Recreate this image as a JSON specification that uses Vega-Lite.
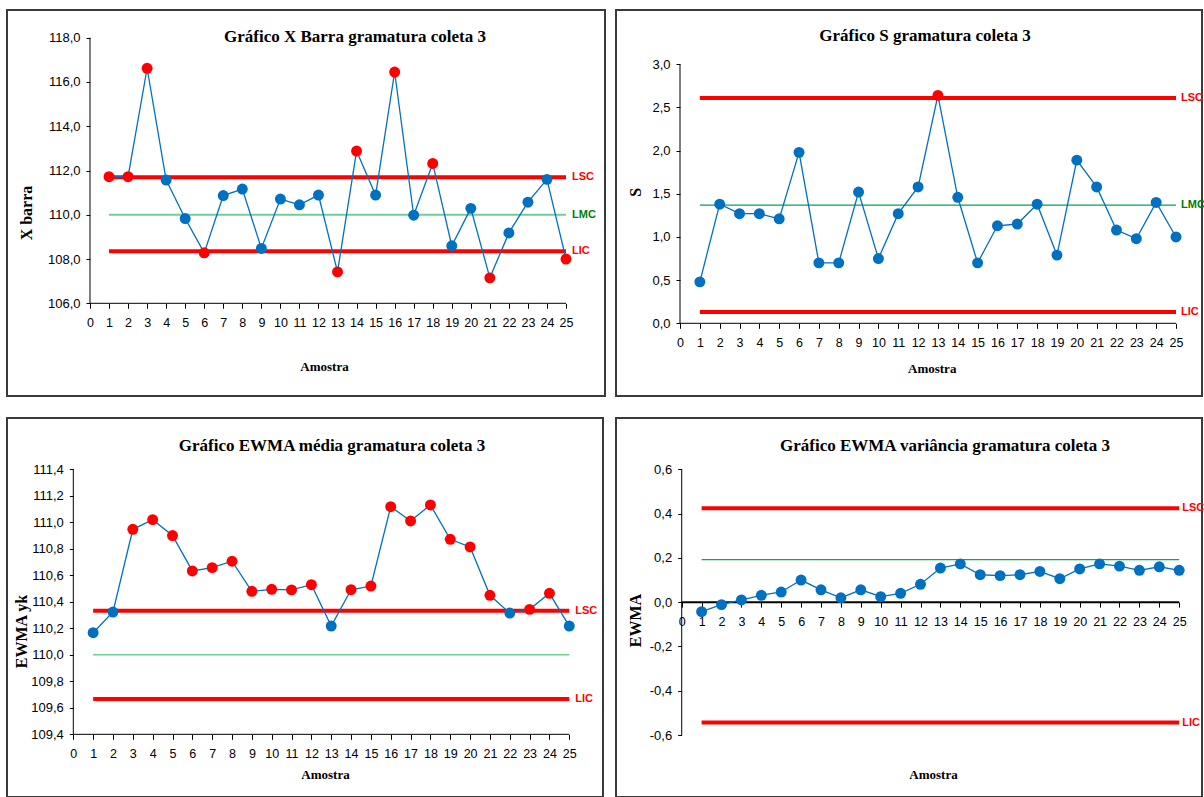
{
  "$schema": "https://vega.github.io/schema/vega-lite/v6.json",
  "padding": {"left": 6, "top": 9, "right": 0, "bottom": 0},
  "background": "white",
  "datasets": {
    "xbarra": [
      {"amostra": 1, "valor": 111.72, "situacao": "fora"},
      {"amostra": 2, "valor": 111.72, "situacao": "fora"},
      {"amostra": 3, "valor": 116.62, "situacao": "fora"},
      {"amostra": 4, "valor": 111.57, "situacao": "dentro"},
      {"amostra": 5, "valor": 109.83, "situacao": "dentro"},
      {"amostra": 6, "valor": 108.28, "situacao": "fora"},
      {"amostra": 7, "valor": 110.87, "situacao": "dentro"},
      {"amostra": 8, "valor": 111.16, "situacao": "dentro"},
      {"amostra": 9, "valor": 108.48, "situacao": "dentro"},
      {"amostra": 10, "valor": 110.71, "situacao": "dentro"},
      {"amostra": 11, "valor": 110.45, "situacao": "dentro"},
      {"amostra": 12, "valor": 110.89, "situacao": "dentro"},
      {"amostra": 13, "valor": 107.42, "situacao": "fora"},
      {"amostra": 14, "valor": 112.88, "situacao": "fora"},
      {"amostra": 15, "valor": 110.89, "situacao": "dentro"},
      {"amostra": 16, "valor": 116.45, "situacao": "fora"},
      {"amostra": 17, "valor": 109.98, "situacao": "dentro"},
      {"amostra": 18, "valor": 112.32, "situacao": "fora"},
      {"amostra": 19, "valor": 108.6, "situacao": "dentro"},
      {"amostra": 20, "valor": 110.29, "situacao": "dentro"},
      {"amostra": 21, "valor": 107.15, "situacao": "fora"},
      {"amostra": 22, "valor": 109.18, "situacao": "dentro"},
      {"amostra": 23, "valor": 110.57, "situacao": "dentro"},
      {"amostra": 24, "valor": 111.6, "situacao": "dentro"},
      {"amostra": 25, "valor": 108.0, "situacao": "fora"}
    ],
    "xbarra_lim": [
      {"limite": "LSC", "valor": 111.7, "inicio": 1, "fim": 25},
      {"limite": "LMC", "valor": 110.0, "inicio": 1, "fim": 25},
      {"limite": "LIC", "valor": 108.35, "inicio": 1, "fim": 25}
    ],
    "s": [
      {"amostra": 1, "valor": 0.48, "situacao": "dentro"},
      {"amostra": 2, "valor": 1.38, "situacao": "dentro"},
      {"amostra": 3, "valor": 1.27, "situacao": "dentro"},
      {"amostra": 4, "valor": 1.27, "situacao": "dentro"},
      {"amostra": 5, "valor": 1.21, "situacao": "dentro"},
      {"amostra": 6, "valor": 1.98, "situacao": "dentro"},
      {"amostra": 7, "valor": 0.7, "situacao": "dentro"},
      {"amostra": 8, "valor": 0.7, "situacao": "dentro"},
      {"amostra": 9, "valor": 1.52, "situacao": "dentro"},
      {"amostra": 10, "valor": 0.75, "situacao": "dentro"},
      {"amostra": 11, "valor": 1.27, "situacao": "dentro"},
      {"amostra": 12, "valor": 1.58, "situacao": "dentro"},
      {"amostra": 13, "valor": 2.64, "situacao": "fora"},
      {"amostra": 14, "valor": 1.46, "situacao": "dentro"},
      {"amostra": 15, "valor": 0.7, "situacao": "dentro"},
      {"amostra": 16, "valor": 1.13, "situacao": "dentro"},
      {"amostra": 17, "valor": 1.15, "situacao": "dentro"},
      {"amostra": 18, "valor": 1.38, "situacao": "dentro"},
      {"amostra": 19, "valor": 0.79, "situacao": "dentro"},
      {"amostra": 20, "valor": 1.89, "situacao": "dentro"},
      {"amostra": 21, "valor": 1.58, "situacao": "dentro"},
      {"amostra": 22, "valor": 1.08, "situacao": "dentro"},
      {"amostra": 23, "valor": 0.98, "situacao": "dentro"},
      {"amostra": 24, "valor": 1.4, "situacao": "dentro"},
      {"amostra": 25, "valor": 1.0, "situacao": "dentro"}
    ],
    "s_lim": [
      {"limite": "LSC", "valor": 2.61, "inicio": 1, "fim": 25},
      {"limite": "LMC", "valor": 1.37, "inicio": 1, "fim": 25},
      {"limite": "LIC", "valor": 0.13, "inicio": 1, "fim": 25}
    ],
    "ewma_media": [
      {"amostra": 1, "valor": 110.167, "situacao": "dentro"},
      {"amostra": 2, "valor": 110.323, "situacao": "dentro"},
      {"amostra": 3, "valor": 110.947, "situacao": "fora"},
      {"amostra": 4, "valor": 111.02, "situacao": "fora"},
      {"amostra": 5, "valor": 110.9, "situacao": "fora"},
      {"amostra": 6, "valor": 110.633, "situacao": "fora"},
      {"amostra": 7, "valor": 110.658, "situacao": "fora"},
      {"amostra": 8, "valor": 110.706, "situacao": "fora"},
      {"amostra": 9, "valor": 110.479, "situacao": "fora"},
      {"amostra": 10, "valor": 110.494, "situacao": "fora"},
      {"amostra": 11, "valor": 110.49, "situacao": "fora"},
      {"amostra": 12, "valor": 110.529, "situacao": "fora"},
      {"amostra": 13, "valor": 110.217, "situacao": "dentro"},
      {"amostra": 14, "valor": 110.491, "situacao": "fora"},
      {"amostra": 15, "valor": 110.519, "situacao": "fora"},
      {"amostra": 16, "valor": 111.118, "situacao": "fora"},
      {"amostra": 17, "valor": 111.01, "situacao": "fora"},
      {"amostra": 18, "valor": 111.131, "situacao": "fora"},
      {"amostra": 19, "valor": 110.872, "situacao": "fora"},
      {"amostra": 20, "valor": 110.814, "situacao": "fora"},
      {"amostra": 21, "valor": 110.449, "situacao": "fora"},
      {"amostra": 22, "valor": 110.315, "situacao": "dentro"},
      {"amostra": 23, "valor": 110.343, "situacao": "fora"},
      {"amostra": 24, "valor": 110.464, "situacao": "fora"},
      {"amostra": 25, "valor": 110.217, "situacao": "dentro"}
    ],
    "ewma_media_lim": [
      {"limite": "LSC", "valor": 110.333, "inicio": 1, "fim": 25},
      {"limite": "LMC", "valor": 110.0, "inicio": 1, "fim": 25},
      {"limite": "LIC", "valor": 109.667, "inicio": 1, "fim": 25}
    ],
    "ewma_var": [
      {"amostra": 1, "valor": -0.043, "situacao": "dentro"},
      {"amostra": 2, "valor": -0.011, "situacao": "dentro"},
      {"amostra": 3, "valor": 0.01, "situacao": "dentro"},
      {"amostra": 4, "valor": 0.031, "situacao": "dentro"},
      {"amostra": 5, "valor": 0.046, "situacao": "dentro"},
      {"amostra": 6, "valor": 0.1, "situacao": "dentro"},
      {"amostra": 7, "valor": 0.056, "situacao": "dentro"},
      {"amostra": 8, "valor": 0.02, "situacao": "dentro"},
      {"amostra": 9, "valor": 0.056, "situacao": "dentro"},
      {"amostra": 10, "valor": 0.025, "situacao": "dentro"},
      {"amostra": 11, "valor": 0.04, "situacao": "dentro"},
      {"amostra": 12, "valor": 0.081, "situacao": "dentro"},
      {"amostra": 13, "valor": 0.154, "situacao": "dentro"},
      {"amostra": 14, "valor": 0.173, "situacao": "dentro"},
      {"amostra": 15, "valor": 0.124, "situacao": "dentro"},
      {"amostra": 16, "valor": 0.12, "situacao": "dentro"},
      {"amostra": 17, "valor": 0.124, "situacao": "dentro"},
      {"amostra": 18, "valor": 0.139, "situacao": "dentro"},
      {"amostra": 19, "valor": 0.106, "situacao": "dentro"},
      {"amostra": 20, "valor": 0.15, "situacao": "dentro"},
      {"amostra": 21, "valor": 0.173, "situacao": "dentro"},
      {"amostra": 22, "valor": 0.163, "situacao": "dentro"},
      {"amostra": 23, "valor": 0.144, "situacao": "dentro"},
      {"amostra": 24, "valor": 0.16, "situacao": "dentro"},
      {"amostra": 25, "valor": 0.144, "situacao": "dentro"}
    ],
    "ewma_var_lim": [
      {"limite": "LSC", "valor": 0.424, "inicio": 1, "fim": 25},
      {"limite": "LMC", "valor": 0.192, "inicio": 1, "fim": 25},
      {"limite": "LIC", "valor": -0.544, "inicio": 1, "fim": 25}
    ]
  },
  "vconcat": [
    {
      "spacing": 9,
      "hconcat": [
        {
          "width": 598,
          "height": 386,
          "title": {"text": "Gráfico X Barra gramatura coleta 3", "offset": -36, "dx": 49},
          "layer": [
            {
              "data": {"values": [{}]},
              "mark": {"type": "rule", "color": "black", "strokeWidth": 1},
              "encoding": {
                "x": {"datum": 0, "type": "quantitative", "scale": {"domain": [-4.359, 27.048], "nice": false, "zero": false}},
                "y": {"datum": 106, "type": "quantitative", "scale": {"domain": [101.812, 119.252], "nice": false, "zero": false}},
                "y2": {"datum": 118}
              }
            },
            {
              "data": {"values": [{}]},
              "mark": {"type": "rule", "color": "black", "strokeWidth": 1},
              "encoding": {
                "x": {"datum": 0, "type": "quantitative", "scale": {"domain": [-4.359, 27.048], "nice": false, "zero": false}},
                "x2": {"datum": 25},
                "y": {"datum": 106, "type": "quantitative", "scale": {"domain": [101.812, 119.252], "nice": false, "zero": false}}
              }
            },
            {
              "data": {"name": "xbarra_lim"},
              "mark": {"type": "rule"},
              "encoding": {
                "x": {"field": "inicio", "type": "quantitative", "scale": {"domain": [-4.359, 27.048], "nice": false, "zero": false}},
                "x2": {"field": "fim"},
                "y": {"field": "valor", "type": "quantitative", "scale": {"domain": [101.812, 119.252], "nice": false, "zero": false}},
                "stroke": {"condition": {"test": "datum.limite == 'LMC'", "value": "#6fcf95"}, "value": "#FF0000"},
                "strokeWidth": {"condition": {"test": "datum.limite == 'LMC'", "value": 2}, "value": 4}
              }
            },
            {
              "data": {"name": "xbarra"},
              "mark": {"type": "line", "color": "#0070C0", "strokeWidth": 1.3},
              "encoding": {
                "x": {"field": "amostra", "type": "quantitative", "scale": {"domain": [-4.359, 27.048], "nice": false, "zero": false},
                  "axis": {"values": [0,1,2,3,4,5,6,7,8,9,10,11,12,13,14,15,16,17,18,19,20,21,22,23,24,25], "tickCount": 40, "format": "d", "labelOverlap": false, "offset": -92.7, "title": "Amostra", "titleX": 317, "titleY": 62.7}},
                "y": {"field": "valor", "type": "quantitative", "scale": {"domain": [101.812, 119.252], "nice": false, "zero": false},
                  "axis": {"values": [106,108,110,112,114,116,118], "tickCount": 40, "labelOverlap": false, "offset": -83, "title": "X barra", "titleX": -64, "titleY": 202.5}}
              }
            },
            {
              "data": {"name": "xbarra"},
              "mark": {"type": "circle", "size": 120, "opacity": 1},
              "encoding": {
                "x": {"field": "amostra", "type": "quantitative", "scale": {"domain": [-4.359, 27.048], "nice": false, "zero": false}},
                "y": {"field": "valor", "type": "quantitative", "scale": {"domain": [101.812, 119.252], "nice": false, "zero": false}},
                "fill": {"field": "situacao", "type": "nominal", "scale": {"domain": ["dentro", "fora"], "range": ["#0070C0", "#FF0000"]}, "legend": null}
              }
            },
            {
              "data": {"name": "xbarra_lim"},
              "mark": {"type": "text", "align": "left", "baseline": "middle", "dx": 6, "fontWeight": "bold", "fontSize": 11, "font": "Liberation Sans"},
              "encoding": {
                "x": {"field": "fim", "type": "quantitative", "scale": {"domain": [-4.359, 27.048], "nice": false, "zero": false}},
                "y": {"field": "valor", "type": "quantitative", "scale": {"domain": [101.812, 119.252], "nice": false, "zero": false}},
                "text": {"field": "limite"},
                "fill": {"condition": {"test": "datum.limite == 'LMC'", "value": "#008000"}, "value": "#FF0000"}
              }
            }
          ]
        },
        {
          "width": 586,
          "height": 386,
          "title": {"text": "Gráfico S gramatura coleta 3", "offset": -35, "dx": 16},
          "layer": [
            {
              "data": {"values": [{}]},
              "mark": {"type": "rule", "color": "black", "strokeWidth": 1},
              "encoding": {
                "x": {"datum": 0, "type": "quantitative", "scale": {"domain": [-3.226, 26.31], "nice": false, "zero": false}},
                "y": {"datum": 0, "type": "quantitative", "scale": {"domain": [-0.842, 3.629], "nice": false, "zero": false}},
                "y2": {"datum": 3}
              }
            },
            {
              "data": {"values": [{}]},
              "mark": {"type": "rule", "color": "black", "strokeWidth": 1},
              "encoding": {
                "x": {"datum": 0, "type": "quantitative", "scale": {"domain": [-3.226, 26.31], "nice": false, "zero": false}},
                "x2": {"datum": 25},
                "y": {"datum": 0, "type": "quantitative", "scale": {"domain": [-0.842, 3.629], "nice": false, "zero": false}}
              }
            },
            {
              "data": {"name": "s_lim"},
              "mark": {"type": "rule"},
              "encoding": {
                "x": {"field": "inicio", "type": "quantitative", "scale": {"domain": [-3.226, 26.31], "nice": false, "zero": false}},
                "x2": {"field": "fim"},
                "y": {"field": "valor", "type": "quantitative", "scale": {"domain": [-0.842, 3.629], "nice": false, "zero": false}},
                "stroke": {"condition": {"test": "datum.limite == 'LMC'", "value": "#00A650"}, "value": "#FF0000"},
                "strokeWidth": {"condition": {"test": "datum.limite == 'LMC'", "value": 1.2}, "value": 4}
              }
            },
            {
              "data": {"name": "s"},
              "mark": {"type": "line", "color": "#0070C0", "strokeWidth": 1.3},
              "encoding": {
                "x": {"field": "amostra", "type": "quantitative", "scale": {"domain": [-3.226, 26.31], "nice": false, "zero": false},
                  "axis": {"values": [0,1,2,3,4,5,6,7,8,9,10,11,12,13,14,15,16,17,18,19,20,21,22,23,24,25], "tickCount": 40, "format": "d", "labelOverlap": false, "offset": -72.7, "title": "Amostra", "titleX": 315.7, "titleY": 44.7}},
                "y": {"field": "valor", "type": "quantitative", "scale": {"domain": [-0.842, 3.629], "nice": false, "zero": false},
                  "axis": {"values": [0,0.5,1,1.5,2,2.5,3], "tickCount": 40, "labelOverlap": false, "offset": -64, "title": "S", "titleX": -45, "titleY": 181.7}}
              }
            },
            {
              "data": {"name": "s"},
              "mark": {"type": "circle", "size": 120, "opacity": 1},
              "encoding": {
                "x": {"field": "amostra", "type": "quantitative", "scale": {"domain": [-3.226, 26.31], "nice": false, "zero": false}},
                "y": {"field": "valor", "type": "quantitative", "scale": {"domain": [-0.842, 3.629], "nice": false, "zero": false}},
                "fill": {"field": "situacao", "type": "nominal", "scale": {"domain": ["dentro", "fora"], "range": ["#0070C0", "#FF0000"]}, "legend": null}
              }
            },
            {
              "data": {"name": "s_lim"},
              "mark": {"type": "text", "align": "left", "baseline": "middle", "dx": 5, "fontWeight": "bold", "fontSize": 11, "font": "Liberation Sans"},
              "encoding": {
                "x": {"field": "fim", "type": "quantitative", "scale": {"domain": [-3.226, 26.31], "nice": false, "zero": false}},
                "y": {"field": "valor", "type": "quantitative", "scale": {"domain": [-0.842, 3.629], "nice": false, "zero": false}},
                "text": {"field": "limite"},
                "fill": {"condition": {"test": "datum.limite == 'LMC'", "value": "#008000"}, "value": "#FF0000"}
              }
            }
          ]
        }
      ]
    },
    {
      "spacing": 11,
      "hconcat": [
        {
          "width": 596,
          "height": 379,
          "title": {"text": "Gráfico EWMA média gramatura coleta 3", "offset": -37, "dx": 27},
          "layer": [
            {
              "data": {"values": [{}]},
              "mark": {"type": "rule", "color": "black", "strokeWidth": 1},
              "encoding": {
                "x": {"datum": 0, "type": "quantitative", "scale": {"domain": [-3.342, 26.699], "nice": false, "zero": false}},
                "y": {"datum": 109.4, "type": "quantitative", "scale": {"domain": [108.927, 111.787], "nice": false, "zero": false}},
                "y2": {"datum": 111.4}
              }
            },
            {
              "data": {"values": [{}]},
              "mark": {"type": "rule", "color": "black", "strokeWidth": 1},
              "encoding": {
                "x": {"datum": 0, "type": "quantitative", "scale": {"domain": [-3.342, 26.699], "nice": false, "zero": false}},
                "x2": {"datum": 25},
                "y": {"datum": 109.4, "type": "quantitative", "scale": {"domain": [108.927, 111.787], "nice": false, "zero": false}}
              }
            },
            {
              "data": {"name": "ewma_media_lim"},
              "mark": {"type": "rule"},
              "encoding": {
                "x": {"field": "inicio", "type": "quantitative", "scale": {"domain": [-3.342, 26.699], "nice": false, "zero": false}},
                "x2": {"field": "fim"},
                "y": {"field": "valor", "type": "quantitative", "scale": {"domain": [108.927, 111.787], "nice": false, "zero": false}},
                "stroke": {"condition": {"test": "datum.limite == 'LMC'", "value": "#6fcf95"}, "value": "#FF0000"},
                "strokeWidth": {"condition": {"test": "datum.limite == 'LMC'", "value": 1.5}, "value": 4}
              }
            },
            {
              "data": {"name": "ewma_media"},
              "mark": {"type": "line", "color": "#0070C0", "strokeWidth": 1.3},
              "encoding": {
                "x": {"field": "amostra", "type": "quantitative", "scale": {"domain": [-3.342, 26.699], "nice": false, "zero": false},
                  "axis": {"values": [0,1,2,3,4,5,6,7,8,9,10,11,12,13,14,15,16,17,18,19,20,21,22,23,24,25], "tickCount": 40, "format": "d", "labelOverlap": false, "offset": -62.7, "title": "Amostra", "titleX": 318, "titleY": 39.7}},
                "y": {"field": "valor", "type": "quantitative", "scale": {"domain": [108.927, 111.787], "nice": false, "zero": false},
                  "axis": {"values": [109.4,109.6,109.8,110,110.2,110.4,110.6,110.8,111,111.2,111.4], "tickCount": 40, "labelOverlap": false, "offset": -66.3, "title": "EWMA yk", "titleX": -51.6, "titleY": 213}}
              }
            },
            {
              "data": {"name": "ewma_media"},
              "mark": {"type": "circle", "size": 120, "opacity": 1},
              "encoding": {
                "x": {"field": "amostra", "type": "quantitative", "scale": {"domain": [-3.342, 26.699], "nice": false, "zero": false}},
                "y": {"field": "valor", "type": "quantitative", "scale": {"domain": [108.927, 111.787], "nice": false, "zero": false}},
                "fill": {"field": "situacao", "type": "nominal", "scale": {"domain": ["dentro", "fora"], "range": ["#0070C0", "#FF0000"]}, "legend": null}
              }
            },
            {
              "data": {"name": "ewma_media_lim"},
              "transform": [{"filter": "datum.limite != 'LMC'"}],
              "mark": {"type": "text", "align": "left", "baseline": "middle", "dx": 6, "fontWeight": "bold", "fontSize": 11, "font": "Liberation Sans"},
              "encoding": {
                "x": {"field": "fim", "type": "quantitative", "scale": {"domain": [-3.342, 26.699], "nice": false, "zero": false}},
                "y": {"field": "valor", "type": "quantitative", "scale": {"domain": [108.927, 111.787], "nice": false, "zero": false}},
                "text": {"field": "limite"},
                "fill": {"value": "#FF0000"}
              }
            }
          ]
        },
        {
          "width": 586,
          "height": 379,
          "title": {"text": "Gráfico EWMA variância gramatura coleta 3", "offset": -37, "dx": 36},
          "layer": [
            {
              "data": {"values": [{}]},
              "mark": {"type": "rule", "color": "black", "strokeWidth": 1},
              "encoding": {
                "x": {"datum": 0, "type": "quantitative", "scale": {"domain": [-3.302, 26.146], "nice": false, "zero": false}},
                "y": {"datum": -0.6, "type": "quantitative", "scale": {"domain": [-0.88, 0.832], "nice": false, "zero": false}},
                "y2": {"datum": 0.6}
              }
            },
            {
              "data": {"name": "ewma_var_lim"},
              "mark": {"type": "rule"},
              "encoding": {
                "x": {"field": "inicio", "type": "quantitative", "scale": {"domain": [-3.302, 26.146], "nice": false, "zero": false}},
                "x2": {"field": "fim"},
                "y": {"field": "valor", "type": "quantitative", "scale": {"domain": [-0.88, 0.832], "nice": false, "zero": false}},
                "stroke": {"condition": {"test": "datum.limite == 'LMC'", "value": "#00B050"}, "value": "#FF0000"},
                "strokeWidth": {"condition": {"test": "datum.limite == 'LMC'", "value": 1.2}, "value": 4}
              }
            },
            {
              "data": {"values": [{}]},
              "mark": {"type": "rule", "color": "black", "strokeWidth": 2},
              "encoding": {
                "x": {"datum": 0, "type": "quantitative", "scale": {"domain": [-3.302, 26.146], "nice": false, "zero": false}},
                "x2": {"datum": 25},
                "y": {"datum": 0, "type": "quantitative", "scale": {"domain": [-0.88, 0.832], "nice": false, "zero": false}}
              }
            },
            {
              "data": {"name": "ewma_var"},
              "mark": {"type": "line", "color": "#0070C0", "strokeWidth": 1.3},
              "encoding": {
                "x": {"field": "amostra", "type": "quantitative", "scale": {"domain": [-3.302, 26.146], "nice": false, "zero": false},
                  "axis": {"values": [0,1,2,3,4,5,6,7,8,9,10,11,12,13,14,15,16,17,18,19,20,21,22,23,24,25], "tickCount": 40, "format": "d", "labelOverlap": false, "offset": -194.86, "title": "Amostra", "titleX": 317, "titleY": 171.9}},
                "y": {"field": "valor", "type": "quantitative", "scale": {"domain": [-0.88, 0.832], "nice": false, "zero": false},
                  "axis": {"values": [-0.6,-0.4,-0.2,0,0.2,0.4,0.6], "tickCount": 40, "labelOverlap": false, "offset": -65.7, "title": "EWMA", "titleX": -46.7, "titleY": 202}}
              }
            },
            {
              "data": {"name": "ewma_var"},
              "mark": {"type": "circle", "size": 120, "opacity": 1},
              "encoding": {
                "x": {"field": "amostra", "type": "quantitative", "scale": {"domain": [-3.302, 26.146], "nice": false, "zero": false}},
                "y": {"field": "valor", "type": "quantitative", "scale": {"domain": [-0.88, 0.832], "nice": false, "zero": false}},
                "fill": {"field": "situacao", "type": "nominal", "scale": {"domain": ["dentro", "fora"], "range": ["#0070C0", "#FF0000"]}, "legend": null}
              }
            },
            {
              "data": {"name": "ewma_var_lim"},
              "transform": [{"filter": "datum.limite != 'LMC'"}],
              "mark": {"type": "text", "align": "left", "baseline": "middle", "dx": 3, "fontWeight": "bold", "fontSize": 11, "font": "Liberation Sans"},
              "encoding": {
                "x": {"field": "fim", "type": "quantitative", "scale": {"domain": [-3.302, 26.146], "nice": false, "zero": false}},
                "y": {"field": "valor", "type": "quantitative", "scale": {"domain": [-0.88, 0.832], "nice": false, "zero": false}},
                "text": {"field": "limite"},
                "fill": {"value": "#FF0000"}
              }
            }
          ]
        }
      ]
    }
  ],
  "config": {
    "font": "Liberation Sans",
    "view": {"stroke": "#3a3a3a", "strokeWidth": 2},
    "title": {"font": "Liberation Serif", "fontSize": 17, "fontWeight": "bold", "color": "black", "anchor": "middle", "frame": "group", "baseline": "alphabetic"},
    "axis": {
      "domain": false,
      "grid": false,
      "ticks": true,
      "tickColor": "black",
      "tickWidth": 1,
      "labelColor": "black",
      "labelFont": "Liberation Sans",
      "labelFlush": false,
      "labelOverlap": false,
      "titleFont": "Liberation Serif",
      "titleFontWeight": "bold",
      "titleColor": "black"
    },
    "axisX": {
      "tickSize": 5,
      "labelPadding": 8,
      "labelFontSize": 12.5,
      "labelAngle": 0,
      "titleAngle": 0,
      "titleAlign": "center",
      "titleBaseline": "middle",
      "titleFontSize": 13
    },
    "axisY": {
      "tickSize": 4,
      "labelPadding": 6,
      "labelFontSize": 13,
      "labelExpr": "(datum.value < 0 ? '-' : '') + replace(format(abs(datum.value), '.1f'), '.', ',')",
      "titleAngle": 270,
      "titleAlign": "center",
      "titleBaseline": "middle",
      "titleFontSize": 16
    }
  }
}
